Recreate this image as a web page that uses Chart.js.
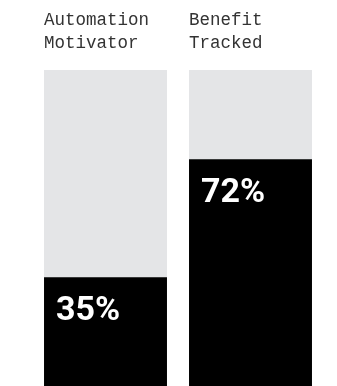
<!DOCTYPE html>
<html>
<head>
<meta charset="utf-8">
<script src="https://cdn.jsdelivr.net/npm/chart.js@4"></script>
<style>
  html, body { margin: 0; padding: 0; background: #fff; overflow: hidden; }
  #wrap { width: 337px; height: 389px; position: relative; }
</style>
</head>
<body>
<div id="wrap"><canvas id="myChart"></canvas></div>
<script>
// labels and values
const categories = [['Automation', 'Motivator'], ['Benefit', 'Tracked']];
const shares = [35, 72];
const track = [100, 100];

// white percentage label in the top-left corner of each black bar
const valueLabels = {
  id: 'valueLabels',
  afterDatasetsDraw(chart) {
    const ctx = chart.ctx;
    const meta = chart.getDatasetMeta(0);
    ctx.save();
    ctx.fillStyle = '#fff';
    ctx.font = 'bold 34px Roboto, "Liberation Sans", sans-serif';
    ctx.textAlign = 'left';
    ctx.textBaseline = 'top';
    meta.data.forEach((bar, i) => {
      const left = bar.x - bar.width / 2;
      ctx.fillText(shares[i] + '%', left + 12, bar.y + 17);
    });
    ctx.restore();
  }
};

const ctx = document.getElementById('myChart');

new Chart(ctx, {
  type: 'bar',
  data: {
    labels: categories,
    datasets: [{
      label: 'share',
      data: shares,
      backgroundColor: '#000',
      grouped: false,
      order: 0
    },
    {
      label: 'track',
      data: track,
      backgroundColor: '#e4e5e7',
      grouped: false,
      order: 1
    }]
  },
  options: {
    responsive: true,
    maintainAspectRatio: false,
    animation: false,
    barPercentage: 1,
    categoryPercentage: 0.848,
    layout: { padding: { left: 33, right: 14, top: 0, bottom: 0 } },
    plugins: {
      legend: { display: false },
      tooltip: { enabled: false }
    },
    scales: {
      x: {
        position: 'top',
        grid: { display: false },
        border: { display: false },
        afterFit(scale) {
          // keep the plot area fixed, labels hang off the bar edges
          scale.height = 70;
          scale.paddingLeft = 0;
          scale.paddingRight = 0;
        },
        ticks: {
          align: 'start',
          labelOffset: -61.5,
          padding: 7,
          color: '#333',
          font: { family: '"Liberation Mono", "DejaVu Sans Mono", monospace', size: 17.5, lineHeight: 1.33 }
        }
      },
      y: {
        display: false,
        min: 0,
        max: 100
      }
    }
  },
  plugins: [valueLabels]
});
</script>
</body>
</html>
